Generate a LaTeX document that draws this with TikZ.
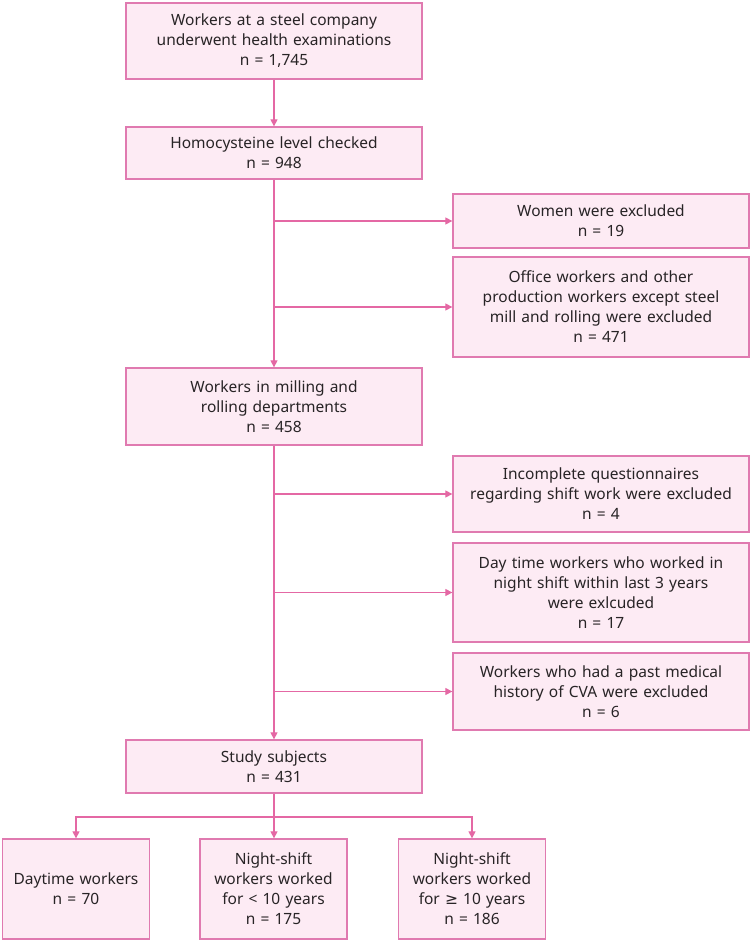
\documentclass[tikz,border=0pt]{standalone}
\usepackage{fontspec}
\setmainfont{Noto Sans}
\newfontfamily\symfont{DejaVu Sans}
\usetikzlibrary{arrows.meta}
\definecolor{boxline}{RGB}{224,122,176}
\definecolor{boxfill}{RGB}{253,235,244}
\definecolor{flowline}{RGB}{228,104,164}
\definecolor{ink}{RGB}{40,36,38}

\begin{document}
\begin{tikzpicture}[x=1pt, y=-1pt,
	box/.style={draw=boxline, fill=boxfill, line width=1.3pt, text=ink, align=center, inner sep=0pt,
		font=\fontsize{15.5}{20}\selectfont},
	mainbox/.style={box, minimum width=296pt, text width=290pt},
	sidebox/.style={box, minimum width=296pt, text width=290pt},
	endbox/.style={box, minimum width=147pt, minimum height=100pt, text width=140pt},
	flow/.style={draw=flowline, line width=1.2pt},
	arrow/.style={flow, -{Triangle[length=7pt, width=7pt]}}]
	\useasboundingbox (0, 0) rectangle (752, 942);
	\node[mainbox, minimum height=76pt] (exam) at (274, 41){Workers at a steel company\\underwent health examinations\\n = 1,745};
	\node[mainbox, minimum height=52pt] (homo) at (274, 153){Homocysteine level checked\\n = 948};
	\node[sidebox, minimum height=54pt] (women) at (601, 221){Women were excluded\\n = 19};
	\node[sidebox, minimum height=100pt] (office) at (601, 307){Office workers and other\\production workers except steel\\mill and rolling were excluded\\n = 471};
	\node[mainbox, minimum height=77pt] (mill) at (274, 406.5){Workers in milling and\\rolling departments\\n = 458};
	\node[sidebox, minimum height=76pt] (quest) at (601, 494){Incomplete questionnaires\\regarding shift work were excluded\\n = 4};
	\node[sidebox, minimum height=99pt] (dayshift) at (601, 592.5){Day time workers who worked in\\night shift within last 3 years\\were exlcuded\\n = 17};
	\node[sidebox, minimum height=77pt] (cva) at (601, 691.5){Workers who had a past medical\\history of CVA were excluded\\n = 6};
	\node[mainbox, minimum height=53pt] (study) at (274, 766.5){Study subjects\\n = 431};
	\node[endbox] (day) at (76, 889){Daytime workers\\n = 70};
	\node[endbox] (short) at (273.5, 889){Night-shift\\workers worked\\for < 10 years\\n = 175};
	\node[endbox] (long) at (472, 889){Night-shift\\workers worked\\for {\symfont ≥} 10 years\\n = 186};
	\coordinate (split) at (274, 817);

	\draw[arrow] (exam) -- (homo);
	\draw[arrow] (homo) -- (mill);
	\draw[arrow] (homo.south |- women.west) -- (women.west);
	\draw[arrow] (homo.south |- office.west) -- (office.west);
	\draw[arrow] (mill) -- (study);
	\draw[arrow] (mill.south |- quest.west) -- (quest.west);
	\draw[arrow] (mill.south |- dayshift.west) -- (dayshift.west);
	\draw[arrow] (mill.south |- cva.west) -- (cva.west);
	\draw[flow] (study) -- (split);
	\draw[arrow] (split) -- (split |- short.north);
	\draw[arrow] (split) -| (day.north);
	\draw[arrow] (split) -| (long.north);
\end{tikzpicture}
\end{document}
